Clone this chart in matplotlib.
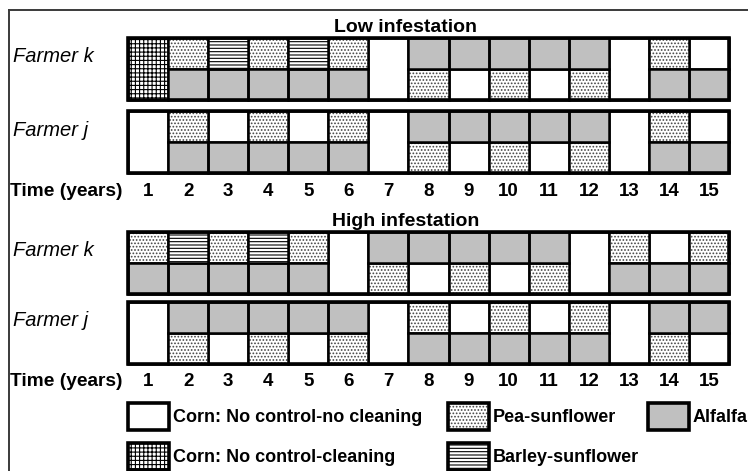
import numpy as np
import matplotlib
matplotlib.use('Agg')
import matplotlib.pyplot as plt

plt.rcParams['font.family'] = ['Liberation Sans', 'DejaVu Sans']
plt.rcParams['hatch.linewidth'] = 0.8

# crop codes: W corn no control-no cleaning, C corn no control-cleaning,
# P pea-sunflower, A alfalfa, B barley-sunflower
years = list(range(1, 16))
low_k_top = list('CPBPBPWAAAAAWPW')
low_k_bot = list('CAAAAAWPWPWPWAA')
low_j_top = list('WPWPWPWAAAAAWPW')
low_j_bot = list('WAAAAAWPWPWPWAA')
high_k_top = list('PBPBPWAAAAAWPWP')
high_k_bot = list('AAAAAWPWPWPWAAA')
high_j_top = list('WAAAAAWPWPWPWAA')
high_j_bot = list('WPWPWPWAAAAAWPW')

panel_titles = ['Low infestation', 'High infestation']
farmer_labels = ['Farmer k', 'Farmer j']
legend_codes = ['W', 'P', 'A', 'C', 'B']
legend_labels = ['Corn: No control-no cleaning', 'Pea-sunflower', 'Alfalfa',
                 'Corn: No control-cleaning', 'Barley-sunflower']

# code -> (face, hatch, hatch colour)
STYLE = {'W': ('white', None, 'black'),
         'C': ('white', '++++', 'black'),
         'P': ('white', '.....', '#444444'),
         'A': ('#c0c0c0', None, 'black'),
         'B': ('white', '-----', 'black')}

W_PX, H_PX = 748, 471
fig = plt.figure(figsize=(W_PX / 100, H_PX / 100), dpi=100)
ax = fig.add_axes([0, 0, 1, 1])
# x in year units: column 1 starts at px 128, column width ~40.07 px
GL, CW = 128, 40.07
ax.set_xlim(0.5 - GL / CW, 0.5 + (W_PX - GL) / CW)
ax.set_ylim(H_PX, 0)
ax.axis('off')
px = lambda p: 0.5 + (p - GL) / CW

RH = 62  # row height in px
rows = [(low_k_top, low_k_bot, 38), (low_j_top, low_j_bot, 111),
        (high_k_top, high_k_bot, 232), (high_j_top, high_j_bot, 302)]

cells = {c: ([], [], []) for c in STYLE}
for tops, bots, y0 in rows:
    for yr, t, b in zip(years, tops, bots):
        if t == b:
            cells[t][0].append(yr); cells[t][1].append(y0); cells[t][2].append(RH)
        else:
            cells[t][0].append(yr); cells[t][1].append(y0); cells[t][2].append(RH / 2)
            cells[b][0].append(yr); cells[b][1].append(y0 + RH / 2); cells[b][2].append(RH / 2)

for c, (xs, bs, hs) in cells.items():
    face, hatch, hc = STYLE[c]
    ax.bar(xs, hs, bottom=bs, width=1, color=face, hatch=hatch, edgecolor=hc, linewidth=0)
    ax.bar(xs, hs, bottom=bs, width=1, fill=False, edgecolor='black', linewidth=1.8)

for _, _, y0 in rows:
    ax.bar(8, RH, bottom=y0, width=15, fill=False, edgecolor='black', linewidth=2.6)

# labels
for title, ty in zip(panel_titles, [27, 221]):
    ax.text(px(406), ty, title, ha='center', va='center', fontsize=14, fontweight='bold')
for (_, _, y0), lab in zip(rows, farmer_labels * 2):
    ax.text(px(13), y0 + 19, lab, ha='left', va='center', fontsize=14.5, style='italic')
for ty in [191, 381]:
    ax.text(px(10), ty, 'Time (years)', ha='left', va='center', fontsize=13.8, fontweight='bold')
    for yr in years:
        ax.text(yr, ty, str(yr), ha='center', va='center', fontsize=13.5, fontweight='bold')

# legend
leg_x = [128, 448, 648, 128, 448]
leg_y = [403, 403, 403, 443, 443]
for c, lab, lx, ly in zip(legend_codes, legend_labels, leg_x, leg_y):
    face, hatch, hc = STYLE[c]
    ax.bar(px(lx), 27, bottom=ly, width=41 / CW, align='edge', color=face, hatch=hatch,
           edgecolor=hc, linewidth=0)
    ax.bar(px(lx), 27, bottom=ly, width=41 / CW, align='edge', fill=False,
           edgecolor='black', linewidth=2.6)
    ax.text(px(lx + 45), ly + 14, lab, ha='left', va='center', fontsize=13, fontweight='bold')

# outer frame (cropped on right and bottom)
ax.plot([px(9), px(W_PX + 5)], [10, 10], color='#3a3a3a', lw=1.4, clip_on=False)
ax.plot([px(9), px(9)], [10, H_PX + 5], color='#3a3a3a', lw=1.4, clip_on=False)

fig.savefig('out.png', dpi=100)
